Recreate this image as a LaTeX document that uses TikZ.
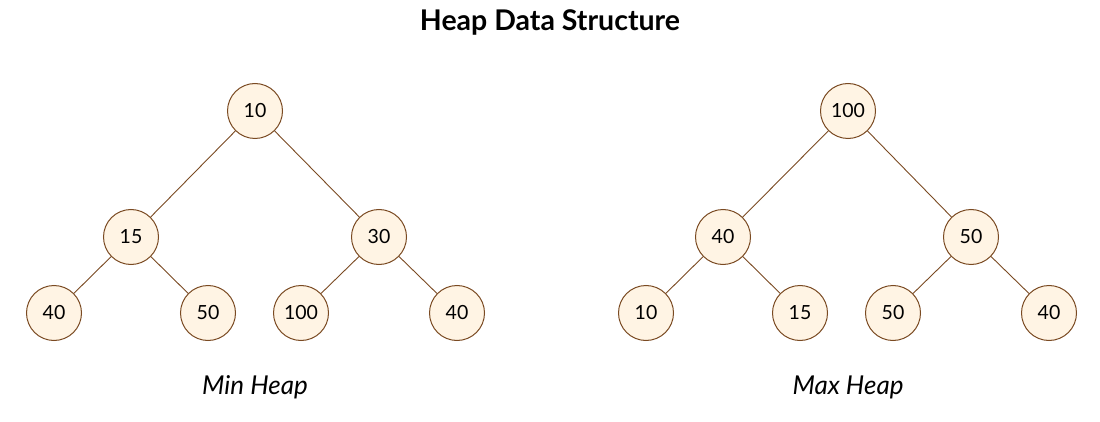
\documentclass[tikz,border=0pt]{standalone}
\usepackage{fontspec}
\setmainfont{Lato}
\begin{document}
\begin{tikzpicture}[x=1pt,y=-1pt,
  hn/.style={circle,draw=nodeline,fill=nodefill,line width=1pt,minimum size=55pt,inner sep=0pt,font=\fontsize{19.5}{22}\selectfont},
  edge/.style={draw=nodeline,line width=0.9pt}]
\definecolor{nodefill}{HTML}{FFF4E4}
\definecolor{nodeline}{HTML}{7A4A22}
\useasboundingbox (0,0) rectangle (1100,422);
\node[font=\bfseries\fontsize{28.5}{32}\selectfont] (title) at (550,22) {Heap Data Structure};
% Min heap
\node[hn] (a) at (255,111) {10};
\node[hn] (b) at (131,237) {15};
\node[hn] (c) at (379,237) {30};
\node[hn] (d) at (54,313) {40};
\node[hn] (e) at (208,313) {50};
\node[hn] (f) at (301,313) {100};
\node[hn] (g) at (457,313) {40};
\draw[edge] (a) -- (b); \draw[edge] (a) -- (c);
\draw[edge] (b) -- (d); \draw[edge] (b) -- (e);
\draw[edge] (c) -- (f); \draw[edge] (c) -- (g);
\node[font=\itshape\fontsize{26}{30}\selectfont] (minlbl) at (255,387) {Min Heap};
% Max heap
\node[hn] (A) at (848,111) {100};
\node[hn] (B) at (723,237) {40};
\node[hn] (C) at (971,237) {50};
\node[hn] (D) at (646,313) {10};
\node[hn] (E) at (800,313) {15};
\node[hn] (F) at (893,313) {50};
\node[hn] (G) at (1049,313) {40};
\draw[edge] (A) -- (B); \draw[edge] (A) -- (C);
\draw[edge] (B) -- (D); \draw[edge] (B) -- (E);
\draw[edge] (C) -- (F); \draw[edge] (C) -- (G);
\node[font=\itshape\fontsize{26}{30}\selectfont] (maxlbl) at (848,387) {Max Heap};
\end{tikzpicture}
\end{document}
